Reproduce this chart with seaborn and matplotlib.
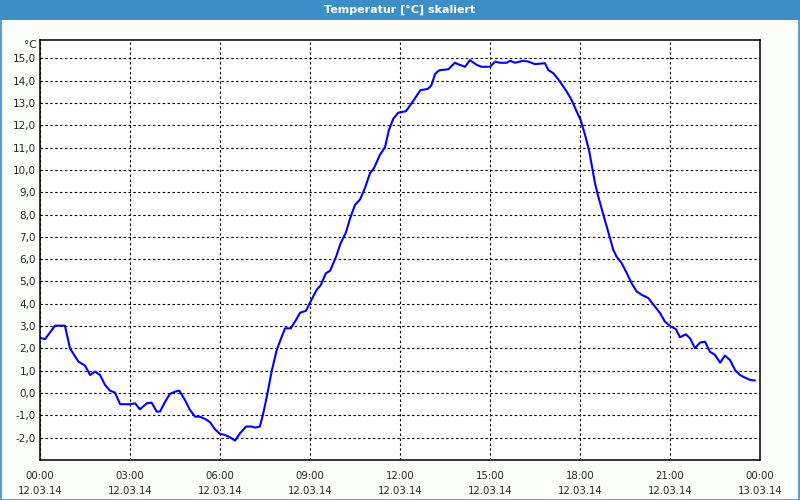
#!/usr/bin/env python3
import pandas as pd
import matplotlib
matplotlib.use("Agg")
import matplotlib.pyplot as plt
import seaborn as sns
from matplotlib.ticker import MultipleLocator, FuncFormatter
from matplotlib.patches import Rectangle

# Temperature readings (hours since 12.03.14 00:00, degrees C)
hours = [0.0, 0.17, 0.5, 0.83, 1.0, 1.28, 1.5, 1.67, 1.83, 2.0, 2.17, 2.33, 2.5, 2.67,
         3.0, 3.17, 3.33, 3.56, 3.72, 3.89, 4.0, 4.17, 4.33, 4.5, 4.64, 4.83, 5.0,
         5.17, 5.33, 5.5, 5.67, 5.83, 6.0, 6.17, 6.33, 6.5, 6.67, 6.87, 7.06, 7.17,
         7.33, 7.44, 7.56, 7.72, 7.89, 8.06, 8.17, 8.36, 8.5, 8.67, 8.87, 9.0, 9.22,
         9.36, 9.53, 9.67, 9.87, 10.02, 10.2, 10.33, 10.5, 10.67, 10.83, 11.0, 11.13,
         11.33, 11.5, 11.63, 11.78, 11.94, 12.2, 12.42, 12.68, 12.93, 13.05, 13.17,
         13.3, 13.61, 13.83, 14.0, 14.17, 14.33, 14.56, 14.72, 15.0, 15.17, 15.33,
         15.56, 15.67, 15.83, 16.11, 16.28, 16.5, 16.83, 16.94, 17.11, 17.31, 17.56,
         17.72, 17.89, 18.02, 18.17, 18.31, 18.42, 18.5, 18.61, 18.78, 18.94, 19.11,
         19.22, 19.39, 19.56, 19.72, 19.89, 20.06, 20.28, 20.5, 20.67, 20.83, 21.0,
         21.2, 21.33, 21.53, 21.67, 21.83, 22.0, 22.17, 22.33, 22.5, 22.67, 22.83,
         23.0, 23.17, 23.33, 23.5, 23.67, 23.83]
temps = [2.47, 2.42, 3.02, 3.02, 2.0, 1.41, 1.23, 0.81, 0.96, 0.81, 0.36, 0.11, 0.02, -0.5,
         -0.5, -0.46, -0.73, -0.46, -0.43, -0.83, -0.83, -0.39, -0.04, 0.06, 0.11, -0.31, -0.76,
         -1.06, -1.06, -1.16, -1.31, -1.62, -1.83, -1.88, -1.98, -2.13, -1.8, -1.5, -1.5, -1.55,
         -1.5, -0.92, -0.16, 0.96, 1.93, 2.53, 2.9, 2.9, 3.2, 3.6, 3.69, 4.05, 4.62,
         4.84, 5.37, 5.48, 6.11, 6.71, 7.2, 7.8, 8.43, 8.68, 9.18, 9.85, 10.07,
         10.67, 11.01, 11.79, 12.3, 12.56, 12.63, 13.05, 13.57, 13.63, 13.8, 14.3,
         14.46, 14.51, 14.8, 14.7, 14.62, 14.92, 14.7, 14.62, 14.62, 14.85, 14.8,
         14.8, 14.89, 14.8, 14.89, 14.85, 14.74, 14.78, 14.48, 14.33, 14.0, 13.5,
         13.13, 12.61, 12.24, 11.56, 10.82, 10.0, 9.4, 8.8, 7.98, 7.23, 6.41,
         6.11, 5.82, 5.37, 4.92, 4.55, 4.4, 4.25, 3.87, 3.58, 3.2, 3.01,
         2.86, 2.5, 2.63, 2.45, 2.01, 2.26, 2.3, 1.85, 1.71, 1.36, 1.68,
         1.48, 1.03, 0.81, 0.69, 0.59, 0.56]

tick_hours = [0, 3, 6, 9, 12, 15, 18, 21, 24]
tick_labels = ["00:00\n12.03.14", "03:00\n12.03.14", "06:00\n12.03.14", "09:00\n12.03.14",
               "12:00\n12.03.14", "15:00\n12.03.14", "18:00\n12.03.14", "21:00\n12.03.14",
               "00:00\n13.03.14"]
title = "Temperatur [°C] skaliert"

df = pd.DataFrame({"hour": hours, "temp": temps})

sns.set_style("white")
plt.rcParams['font.family'] = ['DejaVu Sans']

fig = plt.figure(figsize=(8, 5), dpi=100, facecolor="#fbfdfb")
ax = fig.add_axes([0.05, 0.08, 0.90, 0.84])
ax.set_facecolor("white")

# header bar and outer frame
bar = "#3c8fc6"
fig.patches.append(Rectangle((0, 0.96), 1, 0.04, transform=fig.transFigure,
                             facecolor=bar, edgecolor="none", zorder=0))
fig.patches.append(Rectangle((0.0008, 0.001), 0.9984, 0.998, transform=fig.transFigure,
                             facecolor="none", edgecolor=bar, linewidth=1.2, zorder=0))
fig.text(0.5, 0.98, title, ha="center", va="center", color="white",
         fontsize=8, fontweight="bold")

sns.lineplot(data=df, x="hour", y="temp", ax=ax, color="#0000ff", linewidth=1.5)

ax.set_xlim(0, 24)
ax.set_ylim(-3, 15.82)
ax.set_yticks(range(-2, 16))
ax.yaxis.set_major_formatter(FuncFormatter(lambda v, p: f"{v:.1f}".replace(".", ",")))
ax.set_xticks(tick_hours)
ax.set_xticklabels(tick_labels, linespacing=1.65)
ax.xaxis.set_minor_locator(MultipleLocator(1))
ax.tick_params(axis="x", which="both", direction="out", length=3, width=1,
               color="black", labelsize=7.3, pad=5)
ax.tick_params(axis="y", length=0, labelsize=7.5, pad=3)
ax.grid(True, which="major", color="black", linestyle=(0, (2.2, 2.2)), linewidth=0.8)
for s in ax.spines.values():
    s.set_color("black")
    s.set_linewidth(1.1)
ax.set_xlabel("")
ax.set_ylabel("")

fig.text(37 / 800, 1 - 45 / 500, "°C", ha="right", va="center", fontsize=7.5)

fig.savefig("out.png", dpi=100, facecolor=fig.get_facecolor())
